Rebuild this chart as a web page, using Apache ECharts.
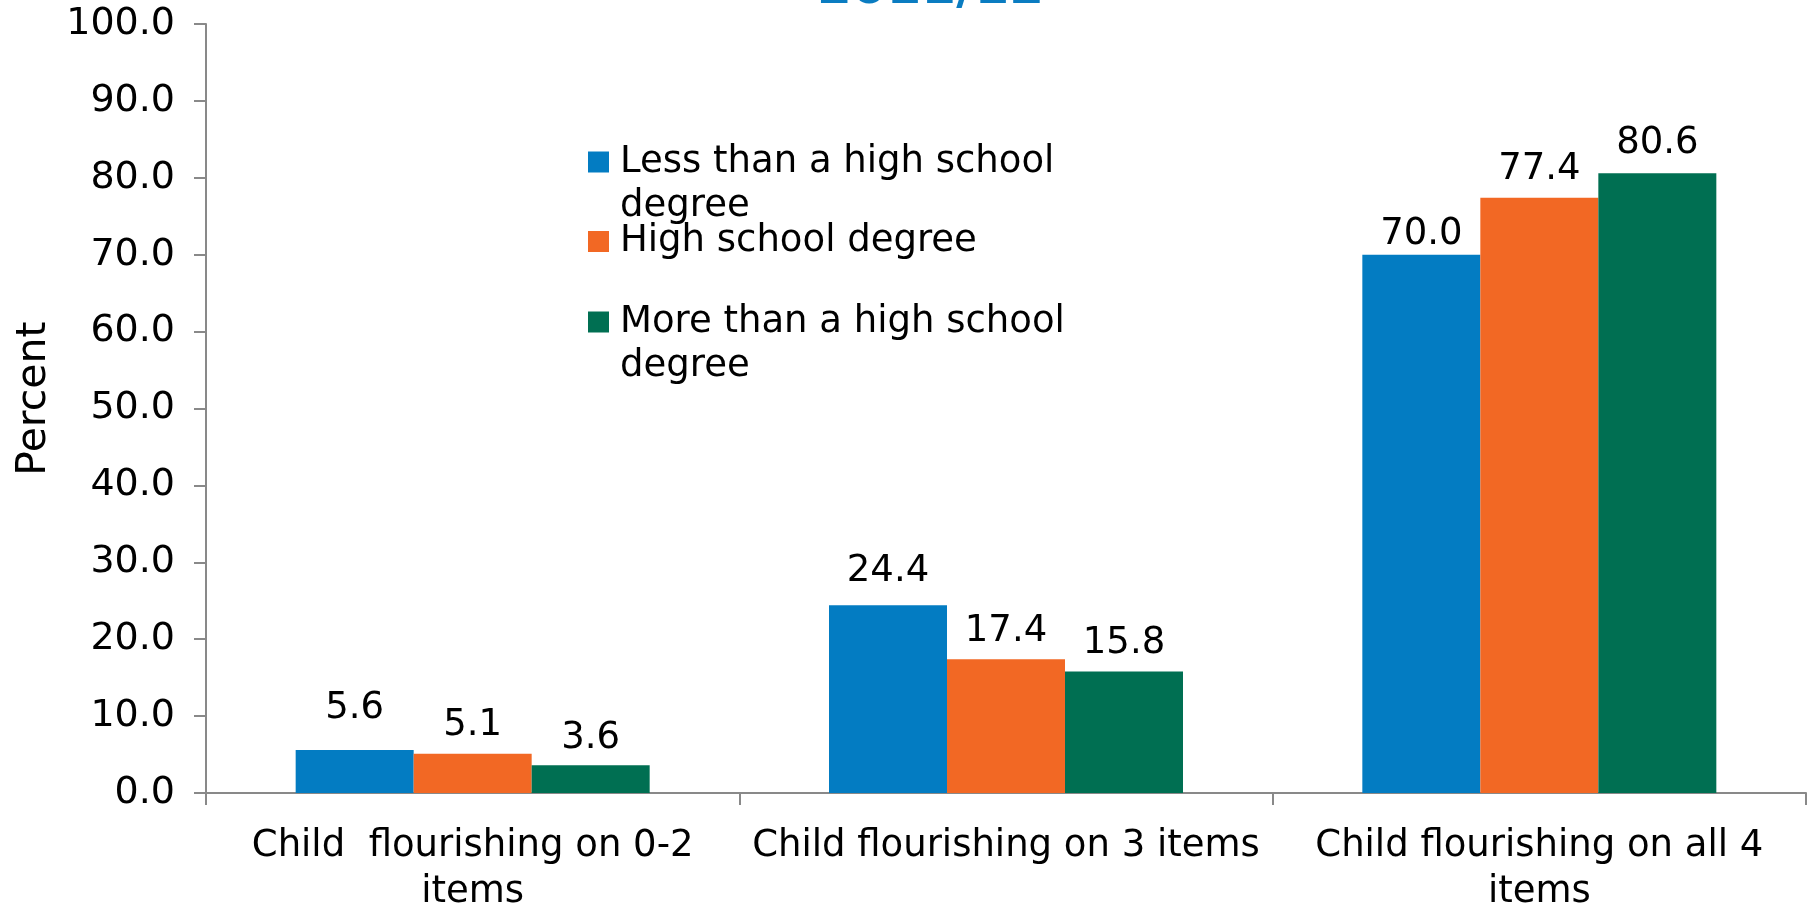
<!DOCTYPE html>
<html>
<head>
<meta charset="utf-8">
<script src="https://cdn.jsdelivr.net/npm/echarts@6/dist/echarts.min.js"></script>
<style>
html,body{margin:0;padding:0;background:#fff;}
#chart{width:1815px;height:904px;}
</style>
</head>
<body>
<div id="chart"></div>
<script>
const titleText = '2011/12';
const categories = [
  'Child  flourishing on 0-2\nitems',
  'Child flourishing on 3 items',
  'Child flourishing on all 4\nitems'
];
const seriesNames = [
  'Less than a high school degree',
  'High school degree',
  'More than a high school degree'
];
const lessThanHS = [5.6, 24.4, 70.0];
const highSchool = [5.1, 17.4, 77.4];
const moreThanHS = [3.6, 15.8, 80.6];
const yTicks = { min: 0, max: 100, interval: 10 };

const colors = ['#037CC2', '#F26824', '#006F52'];
const labelGaps = [[23, 15, 2], [10, 9, 10], [8, 10, 11]];
// leading blank line keeps the first text line level with the legend square
const legendLines = {
  'Less than a high school degree': '\nLess than a high school\ndegree',
  'High school degree': 'High school degree',
  'More than a high school degree': '\nMore than a high school\ndegree'
};
const FONT = 'DejaVu Sans';
const axisGray = '#898989';

const values = [lessThanHS, highSchool, moreThanHS];
const series = seriesNames.map((name, i) => ({
  name: name,
  type: 'bar',
  barWidth: 118,
  barGap: '0%',
  itemStyle: { color: colors[i] },
  label: {
    show: true,
    position: 'top',
    fontFamily: FONT,
    fontSize: 37,
    color: '#000',
    formatter: p => p.value.toFixed(1)
  },
  data: values[i].map((v, j) => ({ value: v, label: { distance: labelGaps[i][j] } }))
}));

function legendFor(idx, top) {
  return {
    data: [seriesNames[idx]],
    left: 588,
    top: top,
    padding: 0,
    itemWidth: 21,
    itemHeight: 21,
    icon: 'rect',
    selectedMode: false,
    formatter: n => legendLines[n],
    textStyle: {
      fontFamily: FONT,
      fontSize: 37,
      lineHeight: 44,
      color: '#000',
      padding: [0, 0, 0, 6]
    }
  };
}

const chart = echarts.init(document.getElementById('chart'), null, { renderer: 'canvas' });
chart.setOption({
  animation: false,
  backgroundColor: '#fff',
  title: {
    text: titleText,
    left: 817,
    top: -35,
    padding: 0,
    textStyle: { fontFamily: FONT, fontSize: 50, fontWeight: 'bold', color: '#0A7CC1' }
  },
  legend: [
    legendFor(0, 96),
    legendFor(1, 219.5),
    legendFor(2, 256)
  ],
  grid: { left: 206, right: 9, top: 24, bottom: 111, containLabel: false, outerBoundsMode: 'none' },
  xAxis: {
    type: 'category',
    data: categories,
    axisLine: { show: true, lineStyle: { color: axisGray, width: 2 } },
    axisTick: { show: true, length: 12, lineStyle: { color: axisGray, width: 2 } },
    axisLabel: {
      interval: 0,
      margin: 30,
      fontFamily: FONT,
      fontSize: 37,
      lineHeight: 46,
      color: '#000'
    },
    splitLine: { show: false }
  },
  yAxis: {
    type: 'value',
    min: yTicks.min,
    max: yTicks.max,
    interval: yTicks.interval,
    name: 'Percent',
    nameLocation: 'middle',
    nameRotate: 90,
    nameGap: 151,
    nameTextStyle: { fontFamily: FONT, fontSize: 41, color: '#000', padding: [0, 0, 0, 20] },
    axisLine: { show: true, lineStyle: { color: axisGray, width: 2 } },
    axisTick: { show: true, length: 12, lineStyle: { color: axisGray, width: 2 } },
    axisLabel: {
      margin: 31,
      fontFamily: FONT,
      fontSize: 38,
      color: '#000',
      formatter: v => v.toFixed(1)
    },
    splitLine: { show: false }
  },
  series: series
});
</script>
</body>
</html>
